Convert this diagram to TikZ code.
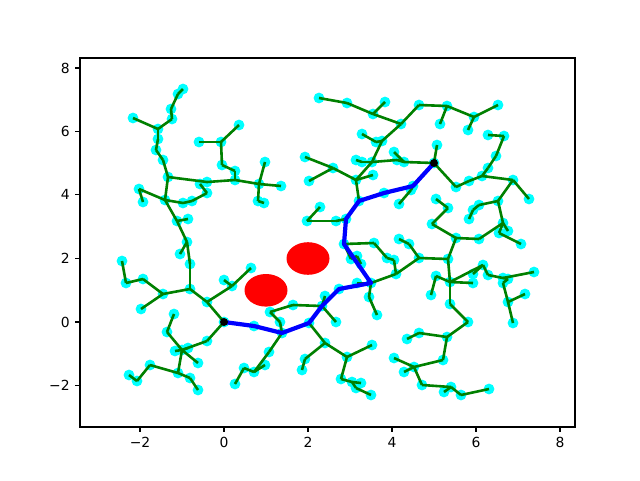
\documentclass[tikz,border=0pt]{standalone}
\usepackage{fontspec}
\setmainfont{DejaVu Sans}
\definecolor{vcyan}{RGB}{0,255,255}
\definecolor{egreen}{RGB}{0,128,0}
\definecolor{pblue}{RGB}{0,0,255}
\definecolor{obred}{RGB}{255,0,0}
\begin{document}
\begin{tikzpicture}[x=1pt,y=-1pt,
  vtx/.style={fill=vcyan},
  treeedge/.style={draw=egreen,line width=2.6pt},
  pathedge/.style={draw=pblue,line width=4.2pt,line join=round},
  obst/.style={fill=obred},
  term/.style={fill=black},
  frame/.style={draw=black,line width=1.1pt},
  tick/.style={draw=black,line width=1.1pt},
  ticklab/.style={inner sep=0pt,font=\fontsize{13.9}{16}\selectfont}]
\useasboundingbox (0,0) rectangle (640,480);
% obstacles
\fill[obst] (308,258.5) ellipse [x radius=21.5,y radius=16.3];
\fill[obst] (266,290.3) ellipse [x radius=21.5,y radius=16.3];
% vertices
\foreach \n/\x/\y in {
a1/183/89,a2/178/94,a3/171/109,a4/172/119,a5/133/118,a6/158/129,a7/158/139,a8/156/150,a9/163/160,a10/168/177,
a11/199/142,a12/221/142,a13/222/165,a14/207/182,a15/200/184,
b1/139/189,b2/143/202,b3/165/200,b4/183/203,b5/192/201,b6/207/193,b8/177/221,b9/188/219,b10/187/242,b11/180/254,
b12/190/264,b13/122/261,b14/126/283,b15/143/279,b16/190/289,b17/163/294,
c2/141/309,c3/207/302,s/224/322,c6/174/314,c7/167/332,c8/207/341,c9/175/351,c10/188/348,c11/182/350,c12/198/363,
c13/150/365,c14/129/375,c15/137/381,c16/178/373,c17/190/378,c18/198/390,
i1/319/98,i2/239/125,i4/305/157,i5/333/168,i6/309/181,i7/265/162,i8/281/186,i9/259/184,i10/235/171,i12/235/180,
j2/258/201,j3/264/203,j4/320/207,j5/307/221,j6/336/221,j7/251/268,j8/224/280,j9/232/286,
d2/254/326,d3/282/333,d4/309/323,d6/270/312,d7/293/305,d8/322/306,d10/280/322,d11/325/296,k3/336/322,
d13/325/343,d14/305/359,d15/302/370,d16/269/352,d17/265/365,d18/254/372,d19/244/368,d20/235/384,
e1/413/186,e2/384/193,e3/359/201,e4/346/219,e6/344/244,e7/351/259,e8/357/256,e9/361/264,e10/371/283,e11/357/283,e12/339/289,
g/434/163,e21/411/190,e22/399/204,e13/374/243,e14/387/258,e15/394/260,e16/396/274,e17/399/239,e18/409/244,e19/419/258,
f15/448/259,e23/436/199,f2/448/208,e24/432/224,f13/456/238,f14/479/239,f9/503/223,f10/508/231,f11/499/233,f12/521/244,
f6/498/201,f3/479/205,f4/473/210,f5/469/219,f8/529/199,g12/513/180,g9/482/176,g10/469/181,g11/456/187,
g8/488/168,g7/496/156,g6/504/136,g5/488/135,
f22/450/282,e26/436/276,k4/431/295,f16/483/265,f17/473/274,f23/473/283,f18/488/275,f19/503/278,f20/508/279,f21/534/272,
f24/503/283,l4/508/302,l5/525/294,l6/513/323,l1/450/304,l2/468/322,l3/447/337,
k13/407/339,k14/419/333,k16/443/360,k17/414/367,k18/394/358,k19/404/372,k20/422/385,l7/451/387,k21/444/392,l8/461/395,l9/489/389,
k1/369/297,k2/377/315,k6/372/345,k7/347/357,k8/341/379,k9/352/382,k10/361/383,k11/356/388,k12/371/395,
h1/347/103,h2/385/102,h3/373/114,h4/401/124,h5/419/105,h6/447/106,h7/440/124,g2/474/117,g3/468/130,g4/498/105,
h8/362/134,h9/376/142,h10/382/141,h11/394/152,h12/404/162,h13/397/160,h14/437/145,h16/356/160,h17/372/162,h18/362/162,
h19/373/175,h20/356/180}
{\coordinate (\n) at (\x,\y); \fill[vtx] (\n) circle (5.4);}
% tree edges
\foreach \u/\v in {
a1/a2,a2/a3,a3/a4,a4/a6,a5/a6,a6/a7,a7/a8,a8/a9,a9/a10,
a11/a12,a12/a13,a12/i2,a13/i10,i10/i12,
a10/a14,a14/i12,i12/i9,i9/i8,i9/i7,i9/j2,j2/j3,
a10/b3,b3/b1,b1/b2,b3/b4,b4/b5,b5/b6,b6/a15,
b3/b8,b8/b9,b8/b10,b10/b11,b10/b12,b12/b16,
b16/b17,b17/b15,b15/b14,b14/b13,b17/c2,
b16/c3,c3/s,c3/j9,j9/j8,j9/j7,
s/c8,c8/c11,c11/c9,c11/c10,c11/c7,c7/c6,c11/c12,c11/c16,c16/c13,c13/c15,c15/c14,c16/c17,c17/c18,
d3/d10,d10/d6,d6/d7,d7/d8,d8/k3,d8/d11,
d3/d16,d16/d18,d18/d17,d18/d19,d19/d20,
d4/d13,d13/d14,d14/d15,d13/k7,k7/k6,k7/k8,k8/k9,k9/k10,k9/k11,k11/k12,
e10/e11,e10/k1,k1/k2,
e6/e13,e13/e14,e14/e15,e15/e16,
e10/e16,e16/e19,e19/e18,e18/e17,e19/f15,
e6/e7,e7/e8,e8/e9,
e4/j6,j6/j5,j5/j4,
e3/h20,h20/h19,h20/i5,i5/i4,i5/i6,h20/h17,h17/h10,h10/h9,h9/h8,h10/h4,
h16/h18,h18/h17,h17/h13,h13/h12,h12/g,h11/h12,h14/g,
h4/h3,h3/h2,h3/h1,h1/i1,h4/h5,h5/h6,h6/h7,h6/g2,g2/g4,g2/g3,
e1/e21,e21/e22,
g/g11,g11/g10,g10/g9,g9/g8,g8/g7,g7/g6,g6/g5,g9/g12,g12/f6,g12/f8,f6/f3,f3/f4,f4/f5,
f6/f9,f9/f10,f9/f11,f11/f12,f9/f14,f14/f13,f13/e24,e24/f2,f2/e23,f13/f15,f15/f22,
f22/e26,e26/k4,f22/f16,f16/f17,f16/f18,f18/f19,f19/f20,f19/f21,f20/f24,f24/l4,l4/l5,l4/l6,f22/f23,
f22/l1,l1/l2,l2/l3,l3/k14,k14/k13,l3/k16,k16/k17,k17/k18,k17/k19,k17/k20,k20/l7,l7/k21,l7/l8,l8/l9}
{\draw[treeedge] (\u) -- (\v);}
% path
\draw[pathedge] (s) -- (d2) -- (d3) -- (d4) -- (d8) -- (e12) -- (e10) -- (e6) -- (e4) -- (e3) -- (e2) -- (e1) -- (g);
\fill[term] (s) circle (4);
\fill[term] (g) circle (4);
% axes
\draw[frame] (80,58) rectangle (575,427);
\foreach \lab/\p in {−2/140,0/224,2/308,4/392,6/476,8/560}
{\coordinate (xt\p) at (\p,427); \draw[tick] (xt\p) -- ++(0,4.9) node[ticklab,anchor=north,yshift=-4.9pt] {\lab};}
\foreach \lab/\p in {−2/385.5,0/322,2/258.5,4/194.5,6/131.5,8/68}
{\coordinate (yt\lab) at (80,\p); \draw[tick] (yt\lab) -- ++(-4.9,0) node[ticklab,anchor=east,xshift=-4.9pt] {\lab};}
\end{tikzpicture}
\end{document}
